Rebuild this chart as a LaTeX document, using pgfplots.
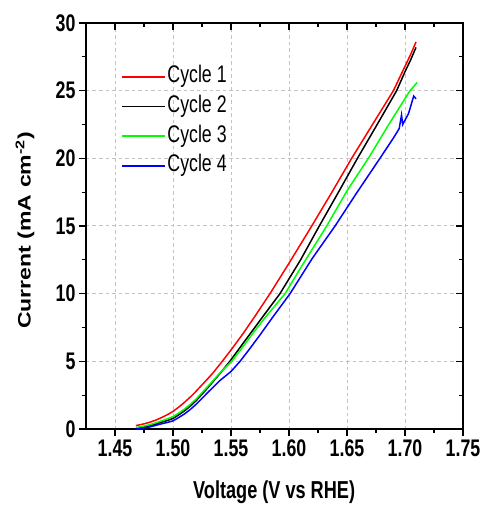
\documentclass[border=0pt]{standalone}
\usepackage{fontspec}
\usepackage{pgfplots}
\pgfplotsset{compat=1.18}
\newfontfamily\condfont{Liberation Sans}[FakeStretch=0.74]
\newfontfamily\ylabfont{Liberation Sans}[FakeStretch=1.28]
\definecolor{gridgray}{RGB}{195,195,195}

\pgfplotstableread{
v i
1.468 0.25
1.475 0.38
1.480 0.50
1.485 0.65
1.490 0.84
1.495 1.05
1.500 1.30
1.505 1.62
1.510 1.98
1.515 2.37
1.520 2.80
1.526 3.35
1.530 3.72
1.535 4.20
1.542 4.95
1.550 5.84
1.560 7.00
1.570 8.25
1.5836 10.0
1.600 12.25
1.6196 15.0
1.637 17.5
1.654 20.0
1.672 22.5
1.690 25.0
1.700 26.8
1.705 27.7
1.7095 28.6
}\cycA
\pgfplotstableread{
v i
1.468 0.05
1.475 0.15
1.480 0.24
1.485 0.36
1.490 0.50
1.495 0.62
1.500 0.78
1.505 1.05
1.510 1.35
1.515 1.70
1.520 2.10
1.526 2.66
1.530 3.05
1.535 3.55
1.540 4.05
1.549 5.00
1.560 6.28
1.570 7.44
1.580 8.60
1.5922 10.0
1.610 12.5
1.6261 15.0
1.642 17.4
1.659 20.0
1.676 22.5
1.6928 25.0
1.700 26.4
1.705 27.3
1.7095 28.2
}\cycB
\pgfplotstableread{
v i
1.468 0.10
1.475 0.22
1.480 0.32
1.485 0.45
1.490 0.60
1.495 0.75
1.500 0.92
1.505 1.18
1.510 1.48
1.515 1.83
1.520 2.22
1.526 2.78
1.530 3.15
1.535 3.62
1.540 4.10
1.5506 5.00
1.560 6.05
1.570 7.20
1.580 8.30
1.5966 10.0
1.610 11.9
1.6325 15.0
1.650 17.6
1.6684 20.0
1.686 22.5
1.7043 25.0
1.7105 25.6
}\cycC
\pgfplotstableread{
v i
1.468 0.00
1.475 0.08
1.480 0.15
1.485 0.27
1.490 0.38
1.495 0.48
1.500 0.60
1.505 0.85
1.510 1.12
1.515 1.45
1.520 1.83
1.526 2.35
1.530 2.70
1.535 3.12
1.540 3.55
1.550 4.25
1.5578 5.00
1.565 5.80
1.575 6.95
1.585 8.15
1.6009 10.0
1.620 12.6
1.6397 15.0
1.658 17.4
1.6784 20.0
1.690 21.5
1.695 22.2
1.697 23.2
1.698 22.5
1.703 23.3
1.7075 24.6
1.7095 24.4
}\cycD

\begin{document}
\begin{tikzpicture}
\begin{axis}[
  scale only axis,width=377pt,height=406pt,
  xmin=1.425,xmax=1.75,ymin=0,ymax=30,
  xtick={1.45,1.50,1.55,1.60,1.65,1.70,1.75},
  ytick={0,5,10,15,20,25,30},
  minor x tick num=1,minor y tick num=1,
  major tick length=7pt,minor tick length=4pt,
  axis line style={black,line width=1.2pt},
  tick style={black,line width=1.1pt},
  xtick pos=left,ytick pos=left,tick align=outside,
  grid=major,
  grid style={gridgray,dash pattern=on 3.5pt off 3pt,line width=1pt},
  /pgf/number format/assume math mode=true,
  xticklabel style={font=\fontsize{24}{24}\selectfont\condfont\bfseries,
    /pgf/number format/.cd,fixed,fixed zerofill,precision=2},
  yticklabel style={font=\fontsize{24}{24}\selectfont\condfont\bfseries},
  xlabel={Voltage (V vs RHE)},
  ylabel={Current (mA cm\textsuperscript{-2})},
  xlabel style={font=\fontsize{24.5}{26}\selectfont\condfont\bfseries,
    at={(axis description cs:0.499,-0.172)},anchor=base},
  ylabel style={font=\fontsize{18}{20}\selectfont\ylabfont\bfseries,
    at={(axis description cs:-0.147,0.489)},anchor=base},
  legend style={at={(axis description cs:0.085,0.9038)},anchor=north west,
    draw=none,fill=none,font=\fontsize{24}{26}\selectfont\condfont,
    row sep=4.7pt,
    nodes={inner sep=1.5pt,text height=17pt,text depth=5pt}},
  legend cell align=left,
  legend image code/.code={\draw[#1,line width=1.7pt] (0pt,0pt) -- (43pt,0pt);},
]
\addplot[red,line width=1.5pt] table[x=v,y=i] {\cycA};
\addlegendentry{Cycle 1}
\addplot[black,line width=1.5pt] table[x=v,y=i] {\cycB};
\addlegendentry{Cycle 2}
\addplot[green,line width=1.5pt] table[x=v,y=i] {\cycC};
\addlegendentry{Cycle 3}
\addplot[blue,line width=1.5pt] table[x=v,y=i] {\cycD};
\addlegendentry{Cycle 4}
% inward ticks on the top and right frame
\pgfplotsinvokeforeach{1.45,1.5,1.55,1.6,1.65,1.7}{
  \draw[black,line width=1.1pt] (axis cs:#1,30) -- ++(0pt,-7pt);}
\pgfplotsinvokeforeach{1.475,1.525,1.575,1.625,1.675,1.725}{
  \draw[black,line width=1.1pt] (axis cs:#1,30) -- ++(0pt,-4pt);}
\pgfplotsinvokeforeach{5,10,15,20,25}{
  \draw[black,line width=1.1pt] (axis cs:1.75,#1) -- ++(-7pt,0pt);}
\pgfplotsinvokeforeach{2.5,7.5,12.5,17.5,22.5,27.5}{
  \draw[black,line width=1.1pt] (axis cs:1.75,#1) -- ++(-4pt,0pt);}
\end{axis}
\pgfresetboundingbox
\path (current axis.south west) ++(-86pt,-76pt) rectangle ++(479pt,505pt);
\end{tikzpicture}
\end{document}
